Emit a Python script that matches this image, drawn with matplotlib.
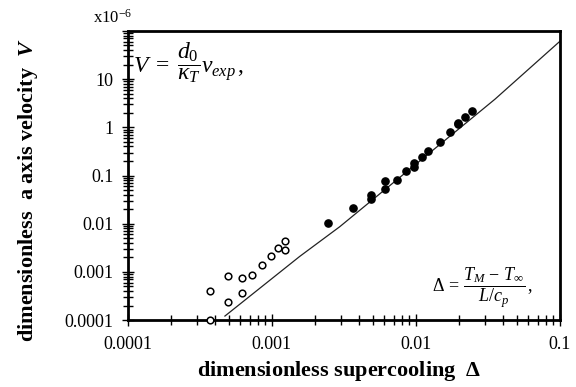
import matplotlib
matplotlib.use("Agg")
import matplotlib.pyplot as plt
from matplotlib.ticker import LogLocator, FixedLocator, FixedFormatter, NullFormatter

plt.rcParams['font.family'] = ['Liberation Serif', 'DejaVu Serif']
plt.rcParams['mathtext.fontset'] = 'custom'
plt.rcParams['mathtext.rm'] = 'Liberation Serif'
plt.rcParams['mathtext.it'] = 'Liberation Serif:italic'
plt.rcParams['mathtext.bf'] = 'Liberation Serif:bold'
plt.rcParams['mathtext.bfit'] = 'Liberation Serif:bold:italic'
plt.rcParams['mathtext.fallback'] = 'stix'

# open circles (small supercooling)
open_x = [3.7e-4, 3.7e-4, 4.94e-4, 4.94e-4, 6.16e-4, 6.16e-4, 7.3e-4, 8.5e-4, 9.8e-4, 1.1e-3, 1.23e-3, 1.23e-3]
open_y = [1.0e-4, 4.1e-4, 8.4e-4, 2.4e-4, 7.4e-4, 3.65e-4, 8.5e-4, 1.38e-3, 2.15e-3, 3.1e-3, 4.3e-3, 2.8e-3]

# filled circles
fill_x = [2.44e-3, 3.65e-3, 4.87e-3, 4.87e-3, 6.15e-3, 6.15e-3, 7.4e-3, 8.6e-3, 9.7e-3, 9.7e-3,
          0.011, 0.0122, 0.0147, 0.0172, 0.0196, 0.0197, 0.0221, 0.0246]
fill_y = [0.0104, 0.0208, 0.0396, 0.0327, 0.076, 0.053, 0.0826, 0.127, 0.178, 0.152,
          0.245, 0.32, 0.49, 0.81, 1.15, 1.25, 1.67, 2.15]

# theoretical curve
curve_x = [4.72e-4, 1.56e-3, 2.96e-3, 0.0354, 0.1]
curve_y = [1.21e-4, 2.09e-3, 8.65e-3, 3.83, 61.0]

xticks = [1e-4, 1e-3, 1e-2, 1e-1]
xtick_labels = ['0.0001', '0.001', '0.01', '0.1']
yticks = [1e-4, 1e-3, 1e-2, 1e-1, 1, 10, 100]
ytick_labels = ['0.0001', '0.001', '0.01', '0.1', '1', '10', '']

fig = plt.figure(figsize=(5.76, 3.87), dpi=100)
ax = fig.add_axes([0.222, 0.173, 0.750, 0.747])
ax.set_xscale('log')
ax.set_yscale('log')
ax.set_xlim(1e-4, 0.1)
ax.set_ylim(1e-4, 100)

ax.plot(curve_x, curve_y, color='#222222', lw=0.9)
ax.plot(open_x, open_y, 'o', mfc='white', mec='black', ms=4.8, mew=1.1, clip_on=False, zorder=5)
ax.plot(fill_x, fill_y, 'o', color='black', ms=5.2, clip_on=False, zorder=5)

ax.xaxis.set_major_locator(FixedLocator(xticks))
ax.xaxis.set_major_formatter(FixedFormatter(xtick_labels))
ax.yaxis.set_major_locator(FixedLocator(yticks))
ax.yaxis.set_major_formatter(FixedFormatter(ytick_labels))
ax.xaxis.set_minor_locator(LogLocator(base=10, subs=range(2, 10)))
ax.yaxis.set_minor_locator(LogLocator(base=10, subs=range(2, 10)))
ax.xaxis.set_minor_formatter(NullFormatter())
ax.yaxis.set_minor_formatter(NullFormatter())

ax.tick_params(which='both', direction='inout', top=False, right=False, width=1.0, labelsize=13)
ax.tick_params(which='major', length=9)
ax.tick_params(which='minor', length=7)
ax.tick_params(axis='x', pad=7)
ax.tick_params(axis='y', pad=6)

for s in ax.spines.values():
    s.set_linewidth(2.0)

ax.set_xlabel(r'dimensionless supercooling  $\mathbf{\Delta}$', fontsize=16, fontweight='bold')
ax.xaxis.set_label_coords(0.49, -0.135)
ax.set_ylabel('dimensionless  a axis velocity  $\\mathbfit{V}$', fontsize=16, fontweight='bold')
ax.yaxis.set_label_coords(-0.203, 0.45)

fig.text(0.162, 0.955, r'x10$^{\mathrm{-6}}$', fontsize=12, ha='left', va='center')

ax.text(0.012, 0.89, r'$V\;=\;\dfrac{d_0}{\kappa_T}v_{exp}\,,$', transform=ax.transAxes,
        fontsize=17, ha='left', va='center')
ax.text(0.705, 0.11, r'$\Delta\,=\,\dfrac{T_M\,-\,T_\infty}{L/c_p}\,,$', transform=ax.transAxes,
        fontsize=13, ha='left', va='center')

fig.savefig('out.png', dpi=100)
